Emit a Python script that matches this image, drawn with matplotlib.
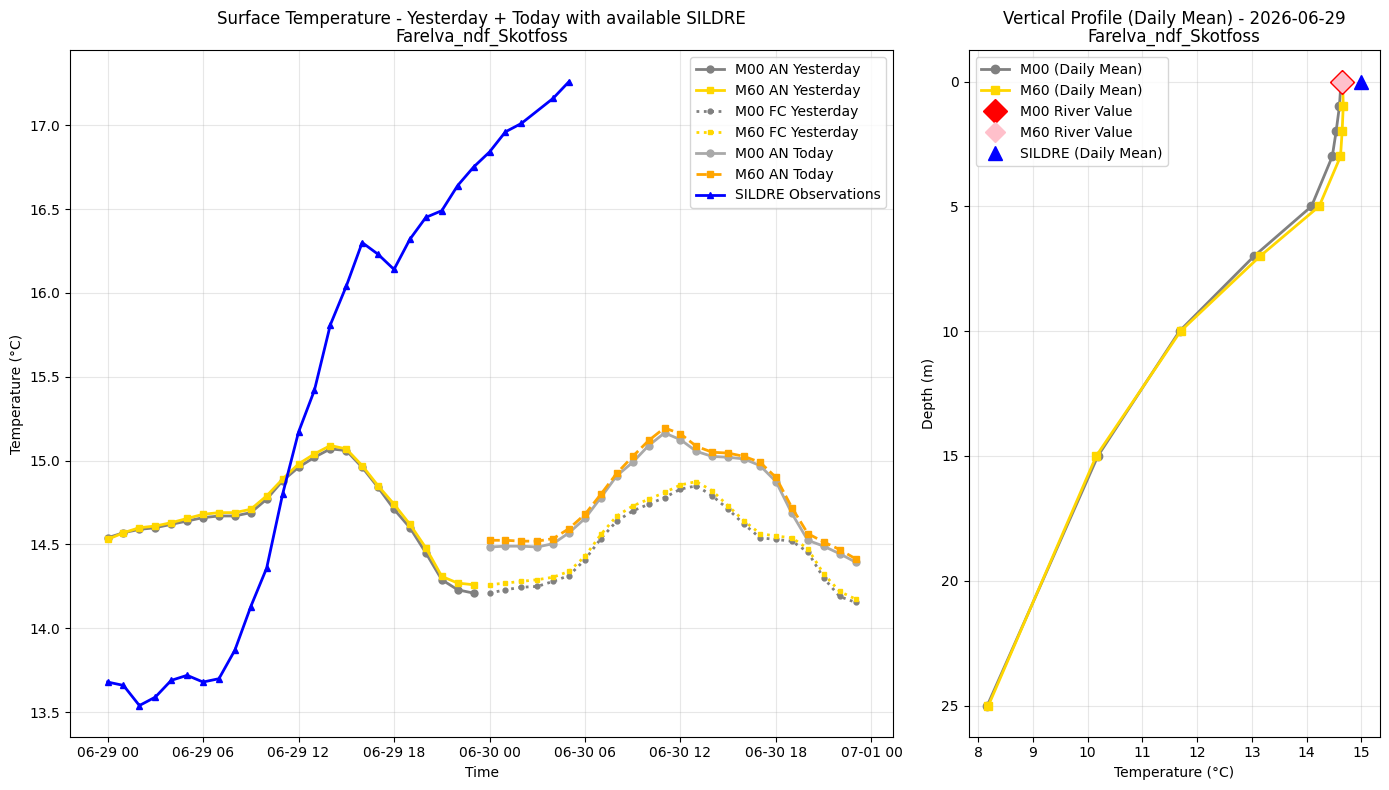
import numpy as np
import pandas as pd
import matplotlib
matplotlib.use("Agg")
import matplotlib.pyplot as plt
import matplotlib.dates as mdates

# ---------------- data ----------------
start = pd.Timestamp("2026-06-29 00:00")
yesterday_hours = pd.date_range(start, periods=24, freq="h")
today_hours = pd.date_range(start + pd.Timedelta(hours=24), periods=24, freq="h")

m00_an_yesterday = [14.54, 14.57, 14.59, 14.60, 14.62, 14.64, 14.66, 14.67, 14.67, 14.69,
                    14.77, 14.88, 14.96, 15.02, 15.07, 15.06, 14.96, 14.84, 14.71, 14.60,
                    14.45, 14.29, 14.23, 14.21]
m60_an_yesterday = [14.53, 14.57, 14.60, 14.61, 14.63, 14.655, 14.68, 14.69, 14.69, 14.71,
                    14.79, 14.89, 14.98, 15.04, 15.09, 15.07, 14.97, 14.85, 14.74, 14.62,
                    14.48, 14.31, 14.27, 14.26]

m00_fc_yesterday = [14.21, 14.23, 14.245, 14.25, 14.28, 14.315, 14.41, 14.535, 14.64, 14.70,
                    14.74, 14.78, 14.83, 14.85, 14.79, 14.71, 14.62, 14.54, 14.53, 14.52,
                    14.455, 14.30, 14.19, 14.155]
m60_fc_yesterday = [14.26, 14.27, 14.28, 14.29, 14.305, 14.34, 14.43, 14.56, 14.67, 14.73,
                    14.77, 14.81, 14.855, 14.875, 14.82, 14.73, 14.64, 14.565, 14.55, 14.54,
                    14.475, 14.325, 14.22, 14.175]

m00_an_today = [14.485, 14.49, 14.49, 14.485, 14.505, 14.57, 14.655, 14.78, 14.91, 14.99,
                15.09, 15.165, 15.125, 15.055, 15.025, 15.02, 15.01, 14.97, 14.875, 14.685,
                14.525, 14.49, 14.445, 14.395]
m60_an_today = [14.525, 14.525, 14.52, 14.52, 14.535, 14.595, 14.68, 14.80, 14.925, 15.025,
                15.12, 15.195, 15.16, 15.085, 15.05, 15.045, 15.025, 14.99, 14.90, 14.72,
                14.565, 14.515, 14.47, 14.415]

sildre_hours_offset = [0, 1, 2, 3, 4, 5, 6, 7, 8, 9, 10, 11, 12, 13, 14, 15, 16, 17, 18, 19,
                       20, 21, 22, 23, 24, 25, 26, 28, 29]
sildre_values = [13.68, 13.66, 13.54, 13.59, 13.69, 13.72, 13.68, 13.70, 13.87, 14.13,
                 14.36, 14.80, 15.17, 15.42, 15.81, 16.04, 16.30, 16.23, 16.14, 16.32,
                 16.45, 16.49, 16.64, 16.75, 16.84, 16.96, 17.01, 17.16, 17.26]
sildre_times = [start + pd.Timedelta(hours=h) for h in sildre_hours_offset]

depths = [0, 1, 2, 3, 5, 7, 10, 15, 25]
m00_profile = [14.63, 14.60, 14.54, 14.47, 14.09, 13.04, 11.68, 10.19, 8.17]
m60_profile = [14.66, 14.67, 14.65, 14.62, 14.23, 13.15, 11.70, 10.16, 8.19]
m00_river_value = 14.64
m60_river_value = 14.65
sildre_daily_mean = 15.0

# ---------------- plot ----------------
fig, (ax1, ax2) = plt.subplots(1, 2, figsize=(14, 8), dpi=100,
                               gridspec_kw={"width_ratios": [2, 1]})

ax1.plot(yesterday_hours, m00_an_yesterday, "o-", color="gray", lw=2, ms=5, label="M00 AN Yesterday")
ax1.plot(yesterday_hours, m60_an_yesterday, "s-", color="gold", lw=2, ms=5, label="M60 AN Yesterday")
ax1.plot(today_hours, m00_fc_yesterday, "o:", color="gray", lw=2, ms=3.5, label="M00 FC Yesterday")
ax1.plot(today_hours, m60_fc_yesterday, "s:", color="gold", lw=2, ms=3.5, label="M60 FC Yesterday")
ax1.plot(today_hours, m00_an_today, "o-", color="darkgray", lw=2, ms=5, label="M00 AN Today")
ax1.plot(today_hours, m60_an_today, "s--", color="orange", lw=2, ms=5, label="M60 AN Today")
ax1.plot(sildre_times, sildre_values, "^-", color="blue", lw=2, ms=5, label="SILDRE Observations")

ax1.set_title("Surface Temperature - Yesterday + Today with available SILDRE\nFarelva_ndf_Skotfoss",
              linespacing=1.0)
ax1.set_xlabel("Time")
ax1.set_ylabel("Temperature (°C)")
ax1.xaxis.set_major_locator(mdates.HourLocator(byhour=[0, 6, 12, 18]))
ax1.xaxis.set_major_formatter(mdates.DateFormatter("%m-%d %H"))
ax1.grid(True, alpha=0.3)
ax1.legend(loc="upper right")

ax2.plot(m00_profile, depths, "o-", color="gray", lw=2, ms=6, label="M00 (Daily Mean)")
ax2.plot(m60_profile, depths, "s-", color="gold", lw=2, ms=6, label="M60 (Daily Mean)")
ax2.plot([m00_river_value], [0], "D", color="red", ms=12, label="M00 River Value")
ax2.plot([m60_river_value], [0], "D", color="pink", ms=10, label="M60 River Value")
ax2.plot([sildre_daily_mean], [0], "^", color="blue", ms=10, label="SILDRE (Daily Mean)")
ax2.invert_yaxis()
ax2.set_title("Vertical Profile (Daily Mean) - 2026-06-29\nFarelva_ndf_Skotfoss", linespacing=1.0)
ax2.set_xlabel("Temperature (°C)")
ax2.set_ylabel("Depth (m)")
ax2.grid(True, alpha=0.3)
ax2.legend(loc="upper left")

fig.tight_layout()
fig.savefig("out.png", dpi=100, bbox_inches="tight")
